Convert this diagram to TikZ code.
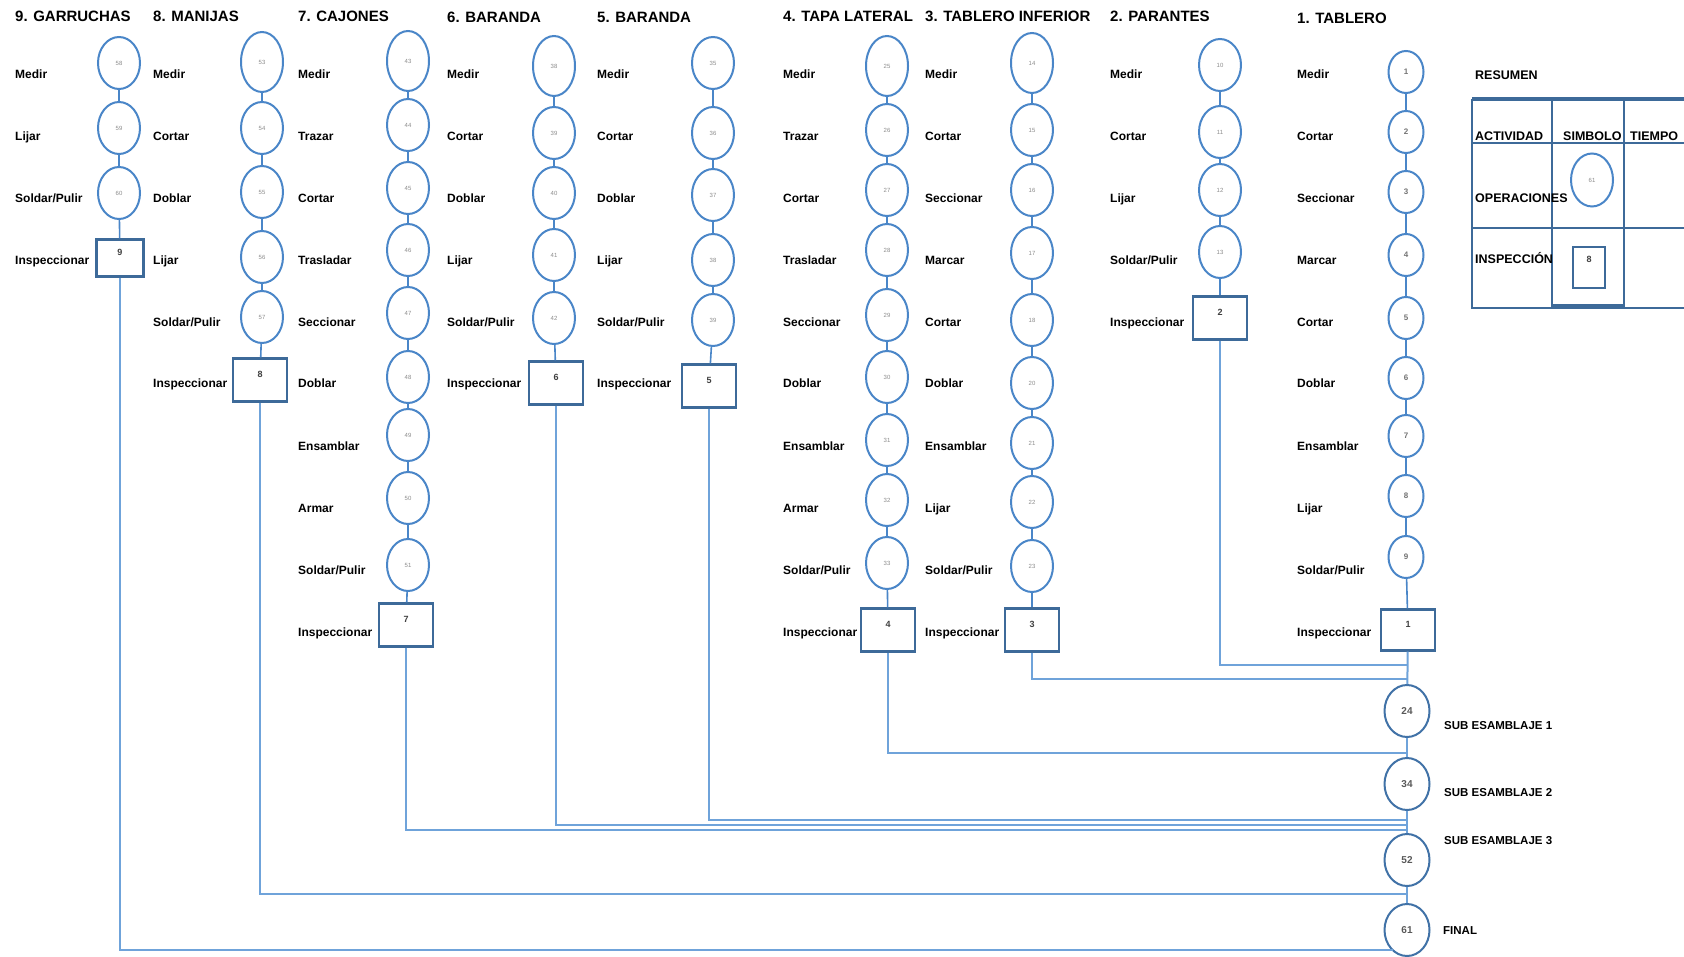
\documentclass[tikz,border=0pt]{standalone}
\usepackage{fontspec}
\setmainfont{Liberation Sans}
\usetikzlibrary{shapes.geometric}
\definecolor{opblue}{HTML}{4A86C8}
\definecolor{boxblue}{HTML}{3D6A99}
\definecolor{lnblue}{HTML}{6FA3DA}
\definecolor{numgray}{HTML}{8C8C8C}
\newcommand{\SolPul}{Soldar/Pulir}
\tikzset{
 op/.style={ellipse, draw=opblue, line width=2pt, minimum width=42pt, minimum height=52pt, inner sep=0pt, font=\fontsize{6}{7}\selectfont, text=numgray},
 tall/.style={minimum height=60pt},
 smallop/.style={minimum width=35pt, minimum height=42pt, font=\fontsize{8}{9}\selectfont\bfseries, text=black!55},
 subop/.style={minimum width=45pt, minimum height=52pt, font=\fontsize{10}{12}\selectfont\bfseries, text=black!65, draw=boxblue!70!opblue},
 insp/.style={rectangle, draw=boxblue, line width=2.2pt, minimum width=54pt, minimum height=43pt, inner sep=0pt},
 boxnum/.style={font=\fontsize{9}{10}\selectfont\bfseries, text=black!75, inner sep=0pt, yshift=6pt},
 act/.style={anchor=base west, inner sep=0pt, font=\fontsize{12}{14}\selectfont\bfseries},
 ttl/.style={anchor=base west, inner sep=0pt, font=\fontsize{15}{18}\selectfont\bfseries},
 tbltxt/.style={anchor=base west, inner sep=0pt, font=\fontsize{12.5}{14}\selectfont\bfseries},
 subtxt/.style={anchor=base west, inner sep=0pt, font=\fontsize{11.5}{13}\selectfont\bfseries},
 link/.style={draw=opblue, line width=1.6pt},
 flow/.style={draw=lnblue, line width=2pt},
 tbl/.style={draw=boxblue, line width=2pt},
}
\begin{document}
\begin{tikzpicture}[x=1pt,y=-1pt]
\useasboundingbox[fill=white] (0,0) rectangle (1684,957);

% ---------- titles
\node[ttl] (tG)  at (15,22)   {9. GARRUCHAS};
\node[ttl] (tM)  at (153,22)  {8. MANIJAS};
\node[ttl] (tC)  at (298,22)  {7. CAJONES};
\node[ttl] (tB6) at (447,23)  {6. BARANDA};
\node[ttl] (tB5) at (597,23)  {5. BARANDA};
\node[ttl] (tTL) at (783,22)  {4. TAPA LATERAL};
\node[ttl] (tTI) at (925,22)  {3. TABLERO INFERIOR};
\node[ttl] (tP)  at (1110,22) {2. PARANTES};
\node[ttl] (tT)  at (1297,24) {1. TABLERO};

% ---------- 9. GARRUCHAS
\foreach \n/\yy/\num in {1/63/58, 2/128/59, 3/193/60}
  \node[op] (g\n) at (119,\yy) {\num};
\node[insp, minimum width=47pt, minimum height=37pt, label={[boxnum]center:9}] (gB) at (120,258) {};
\foreach \t/\yy [count=\k] in {Medir/74, Lijar/136, \SolPul/198, Inspeccionar/260}
  \node[act] (gL\k) at (15,{\yy+4.5}) {\t};
\foreach \a/\b in {g1/g2, g2/g3, g3/gB} \draw[link] (\a) -- (\b);

% ---------- 8. MANIJAS
\node[op,tall] (m1) at (262,62) {53};
\foreach \n/\yy/\num in {2/128/54, 3/192/55, 4/257/56, 5/317/57}
  \node[op] (m\n) at (262,\yy) {\num};
\node[insp, label={[boxnum]center:8}] (mB) at (260,380) {};
\foreach \t/\yy [count=\k] in {Medir/74, Cortar/136, Doblar/198, Lijar/260, \SolPul/322, Inspeccionar/383}
  \node[act] (mL\k) at (153,{\yy+4.5}) {\t};
\foreach \a/\b in {m1/m2, m2/m3, m3/m4, m4/m5, m5/mB} \draw[link] (\a) -- (\b);

% ---------- 7. CAJONES
\node[op,tall] (c1) at (408,61) {43};
\foreach \n/\yy/\num in {2/125/44, 3/188/45, 4/250/46, 5/313/47, 6/377/48, 7/435/49, 8/498/50, 9/565/51}
  \node[op] (c\n) at (408,\yy) {\num};
\node[insp, label={[boxnum]center:7}] (cB) at (406,625) {};
\foreach \t/\yy [count=\k] in {Medir/74, Trazar/136, Cortar/198, Trasladar/260, Seccionar/322, Doblar/383, Ensamblar/446, Armar/508, \SolPul/570, Inspeccionar/632}
  \node[act] (cL\k) at (298,{\yy+4.5}) {\t};
\foreach \a/\b in {c1/c2, c2/c3, c3/c4, c4/c5, c5/c6, c6/c7, c7/c8, c8/c9, c9/cB} \draw[link] (\a) -- (\b);

% ---------- 6. BARANDA
\node[op,tall] (bs1) at (554,66) {38};
\foreach \n/\yy/\num in {2/133/39, 3/193/40, 4/255/41, 5/318/42}
  \node[op] (bs\n) at (554,\yy) {\num};
\node[insp, label={[boxnum]center:6}] (bsB) at (556,383) {};
\foreach \t/\yy [count=\k] in {Medir/74, Cortar/136, Doblar/198, Lijar/260, \SolPul/322, Inspeccionar/383}
  \node[act] (bsL\k) at (447,{\yy+4.5}) {\t};
\foreach \a/\b in {bs1/bs2, bs2/bs3, bs3/bs4, bs4/bs5, bs5/bsB} \draw[link] (\a) -- (\b);

% ---------- 5. BARANDA
\foreach \n/\yy/\num in {1/63/35, 2/133/36, 3/195/37, 4/260/38, 5/320/39}
  \node[op] (bf\n) at (713,\yy) {\num};
\node[insp, label={[boxnum]center:5}] (bfB) at (709,386) {};
\foreach \t/\yy [count=\k] in {Medir/74, Cortar/136, Doblar/198, Lijar/260, \SolPul/322, Inspeccionar/383}
  \node[act] (bfL\k) at (597,{\yy+4.5}) {\t};
\foreach \a/\b in {bf1/bf2, bf2/bf3, bf3/bf4, bf4/bf5, bf5/bfB} \draw[link] (\a) -- (\b);

% ---------- 4. TAPA LATERAL
\node[op,tall] (tl1) at (887,66) {25};
\foreach \n/\yy/\num in {2/130/26, 3/190/27, 4/250/28, 5/315/29, 6/377/30, 7/440/31, 8/500/32, 9/563/33}
  \node[op] (tl\n) at (887,\yy) {\num};
\node[insp, label={[boxnum]center:4}] (tlB) at (888,630) {};
\foreach \t/\yy [count=\k] in {Medir/74, Trazar/136, Cortar/198, Trasladar/260, Seccionar/322, Doblar/383, Ensamblar/446, Armar/508, \SolPul/570, Inspeccionar/632}
  \node[act] (tlL\k) at (783,{\yy+4.5}) {\t};
\foreach \a/\b in {tl1/tl2, tl2/tl3, tl3/tl4, tl4/tl5, tl5/tl6, tl6/tl7, tl7/tl8, tl8/tl9, tl9/tlB} \draw[link] (\a) -- (\b);

% ---------- 3. TABLERO INFERIOR
\node[op,tall] (ti1) at (1032,63) {14};
\foreach \n/\yy/\num in {2/130/15, 3/190/16, 4/253/17, 5/320/18, 6/383/20, 7/443/21, 8/502/22, 9/566/23}
  \node[op] (ti\n) at (1032,\yy) {\num};
\node[insp, label={[boxnum]center:3}] (tiB) at (1032,630) {};
\foreach \t/\yy [count=\k] in {Medir/74, Cortar/136, Seccionar/198, Marcar/260, Cortar/322, Doblar/383, Ensamblar/446, Lijar/508, \SolPul/570, Inspeccionar/632}
  \node[act] (tiL\k) at (925,{\yy+4.5}) {\t};
\foreach \a/\b in {ti1/ti2, ti2/ti3, ti3/ti4, ti4/ti5, ti5/ti6, ti6/ti7, ti7/ti8, ti8/ti9, ti9/tiB} \draw[link] (\a) -- (\b);

% ---------- 2. PARANTES
\foreach \n/\yy/\num in {1/65/10, 2/132/11, 3/190/12, 4/252/13}
  \node[op] (p\n) at (1220,\yy) {\num};
\node[insp, label={[boxnum]center:2}] (pB) at (1220,318) {};
\foreach \t/\yy [count=\k] in {Medir/74, Cortar/136, Lijar/198, \SolPul/260, Inspeccionar/322}
  \node[act] (pL\k) at (1110,{\yy+4.5}) {\t};
\foreach \a/\b in {p1/p2, p2/p3, p3/p4, p4/pB} \draw[link] (\a) -- (\b);

% ---------- 1. TABLERO
\foreach \n/\yy in {1/72, 2/132, 3/192, 4/255, 5/318, 6/378, 7/436, 8/496, 9/557}
  \node[op,smallop] (t\n) at (1406,\yy) {\n};
\node[insp, minimum height=41pt, label={[boxnum]center:1}] (tB) at (1408,630) {};
\foreach \t/\yy [count=\k] in {Medir/74, Cortar/136, Seccionar/198, Marcar/260, Cortar/322, Doblar/383, Ensamblar/446, Lijar/508, \SolPul/570, Inspeccionar/632}
  \node[act] (tL\k) at (1297,{\yy+4.5}) {\t};
\foreach \a/\b in {t1/t2, t2/t3, t3/t4, t4/t5, t5/t6, t6/t7, t7/t8, t8/t9, t9/tB} \draw[link] (\a) -- (\b);

% ---------- sub-assemblies
\node[op,subop] (s24) at (1407,711) {24};
\node[op,subop] (s34) at (1407,784) {34};
\node[op,subop] (s52) at (1407,860) {52};
\node[op,subop] (s61) at (1407,930) {61};
\node[subtxt] (sl1) at (1444,729) {SUB ESAMBLAJE 1};
\node[subtxt] (sl2) at (1444,796) {SUB ESAMBLAJE 2};
\node[subtxt] (sl3) at (1444,844) {SUB ESAMBLAJE 3};
\node[subtxt] (sl4) at (1443,934) {FINAL};

\draw[flow] (tB) -- (s24);
\draw[flow] (s24) -- (s34);
\draw[flow] (s34) -- (s52);
\draw[flow] (s52) -- (s61);

% junction points on the main line
\coordinate (jP)  at (1407,665);
\coordinate (jTI) at (1407,679);
\coordinate (jTL) at (1407,753);
\coordinate (jB5) at (1407,820);
\coordinate (jB6) at (1407,825);
\coordinate (jC)  at (1407,830);
\coordinate (jM)  at (1407,894);
\coordinate (jG)  at (1393,950);

\draw[flow] (pB)  -- (pB |- jP)   -- (jP);
\draw[flow] (tiB) -- (tiB |- jTI) -- (jTI);
\draw[flow] (tlB) -- (tlB |- jTL) -- (jTL);
\draw[flow] (bfB) -- (bfB |- jB5) -- (jB5);
\draw[flow] (bsB) -- (bsB |- jB6) -- (jB6);
\draw[flow] (cB)  -- (cB |- jC)   -- (jC);
\draw[flow] (mB)  -- (mB |- jM)   -- (jM);
\draw[flow] (gB)  -- (gB |- jG)   -- (jG);

% ---------- summary table
\node[tbltxt] (rs) at (1475,80) {RESUMEN};
\draw[tbl, line width=3.5pt] (1472,99) -- (1700,99);
\draw[tbl] (1472,99) -- (1472,308) -- (1700,308);
\draw[tbl] (1552,99) -- (1552,308);
\draw[tbl] (1624,99) -- (1624,308);
\draw[tbl] (1472,143) -- (1700,143);
\draw[tbl] (1472,228) -- (1700,228);
\draw[tbl, line width=3pt] (1552,306) -- (1624,306);
\node[tbltxt] (h1) at (1475,141) {ACTIVIDAD};
\node[tbltxt] (h2) at (1563,141) {SIMBOLO};
\node[tbltxt] (h3) at (1630,141) {TIEMPO};
\node[tbltxt] (r1) at (1475,203) {OPERACIONES};
\node[tbltxt] (r2) at (1475,264) {INSPECCIÓN};
\node[op, minimum height=53pt] (sumop) at (1592,180) {61};
\node[insp, minimum width=32pt, minimum height=41pt, label={[boxnum, yshift=2pt]center:8}] (sumin) at (1589,267.5) {};
\end{tikzpicture}
\end{document}
